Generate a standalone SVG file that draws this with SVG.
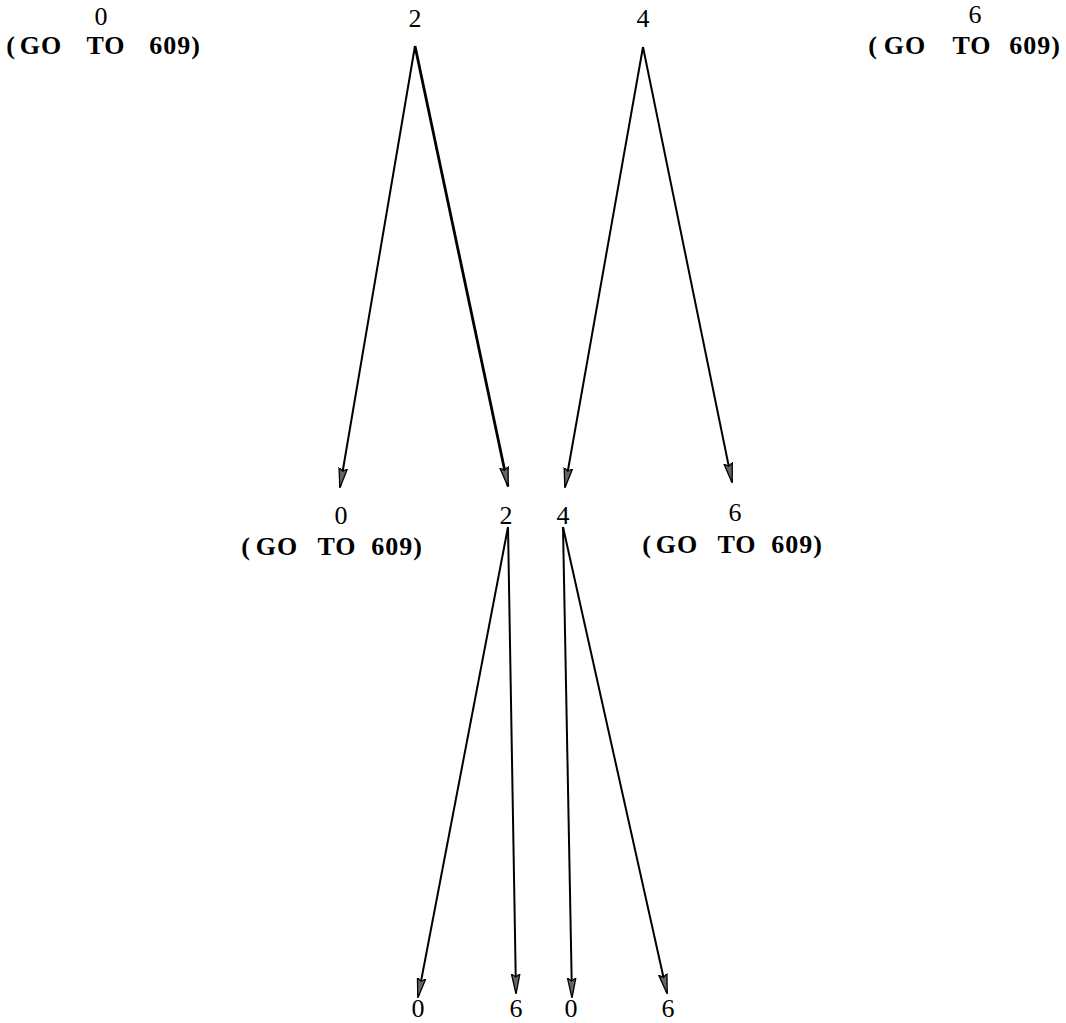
<svg xmlns="http://www.w3.org/2000/svg" width="1066" height="1023" viewBox="0 0 1066 1023">
<style>
.num{font-family:"Liberation Serif",serif;font-size:26px;text-anchor:middle;fill:#000}
.go{font-family:"Liberation Serif",serif;font-size:26px;font-weight:bold;text-anchor:middle;fill:#000;letter-spacing:1px}
.edge{stroke:#000;stroke-width:2;fill:none;marker-end:url(#ah)}
</style>
<defs>
<marker id="ah" markerUnits="userSpaceOnUse" viewBox="0 0 20 10" refX="19" refY="5" markerWidth="20" markerHeight="10" orient="auto">
<path d="M0,0.8 L20,5 L0,9.2 L3,5 z" fill="#666" stroke="#000" stroke-width="1.3"/>
</marker>
</defs>
<rect width="1066" height="1023" fill="#fff"/>
<g id="connectors">
<line class="edge" x1="415" y1="46" x2="340" y2="487"/>
<line class="edge" x1="415" y1="46" x2="508" y2="486" style="stroke-width:2.8"/>
<line class="edge" x1="643" y1="47" x2="565" y2="487"/>
<line class="edge" x1="643" y1="47" x2="732" y2="482"/>
<line class="edge" x1="508" y1="527" x2="418" y2="997"/>
<line class="edge" x1="508" y1="527" x2="516" y2="993"/>
<line class="edge" x1="563" y1="527" x2="572" y2="997"/>
<line class="edge" x1="563" y1="527" x2="667" y2="993"/>
</g>
<g id="top0">
<text class="num" x="101" y="25">0</text>
<text class="go" x="11" y="54">(</text><text class="go" x="41" y="54">GO</text><text class="go" x="106" y="54">TO</text><text class="go" x="175" y="54">609)</text>
</g>
<g id="top2"><text class="num" x="415" y="27">2</text></g>
<g id="top4"><text class="num" x="643" y="27">4</text></g>
<g id="top6">
<text class="num" x="975" y="23">6</text>
<text class="go" x="873" y="54">(</text><text class="go" x="905" y="54">GO</text><text class="go" x="972" y="54">TO</text><text class="go" x="1035" y="54">609)</text>
</g>
<g id="mid0">
<text class="num" x="341" y="524">0</text>
<text class="go" x="246" y="555">(</text><text class="go" x="277" y="555">GO</text><text class="go" x="337" y="555">TO</text><text class="go" x="397" y="555">609)</text>
</g>
<g id="mid2"><text class="num" x="506" y="524">2</text></g>
<g id="mid4"><text class="num" x="563" y="524">4</text></g>
<g id="mid6">
<text class="num" x="735" y="521">6</text>
<text class="go" x="647" y="553">(</text><text class="go" x="677" y="553">GO</text><text class="go" x="737" y="553">TO</text><text class="go" x="797" y="553">609)</text>
</g>
<g id="bot0a"><text class="num" x="418" y="1017">0</text></g>
<g id="bot6a"><text class="num" x="516" y="1017">6</text></g>
<g id="bot0b"><text class="num" x="571" y="1017">0</text></g>
<g id="bot6b"><text class="num" x="668" y="1017">6</text></g>
</svg>
